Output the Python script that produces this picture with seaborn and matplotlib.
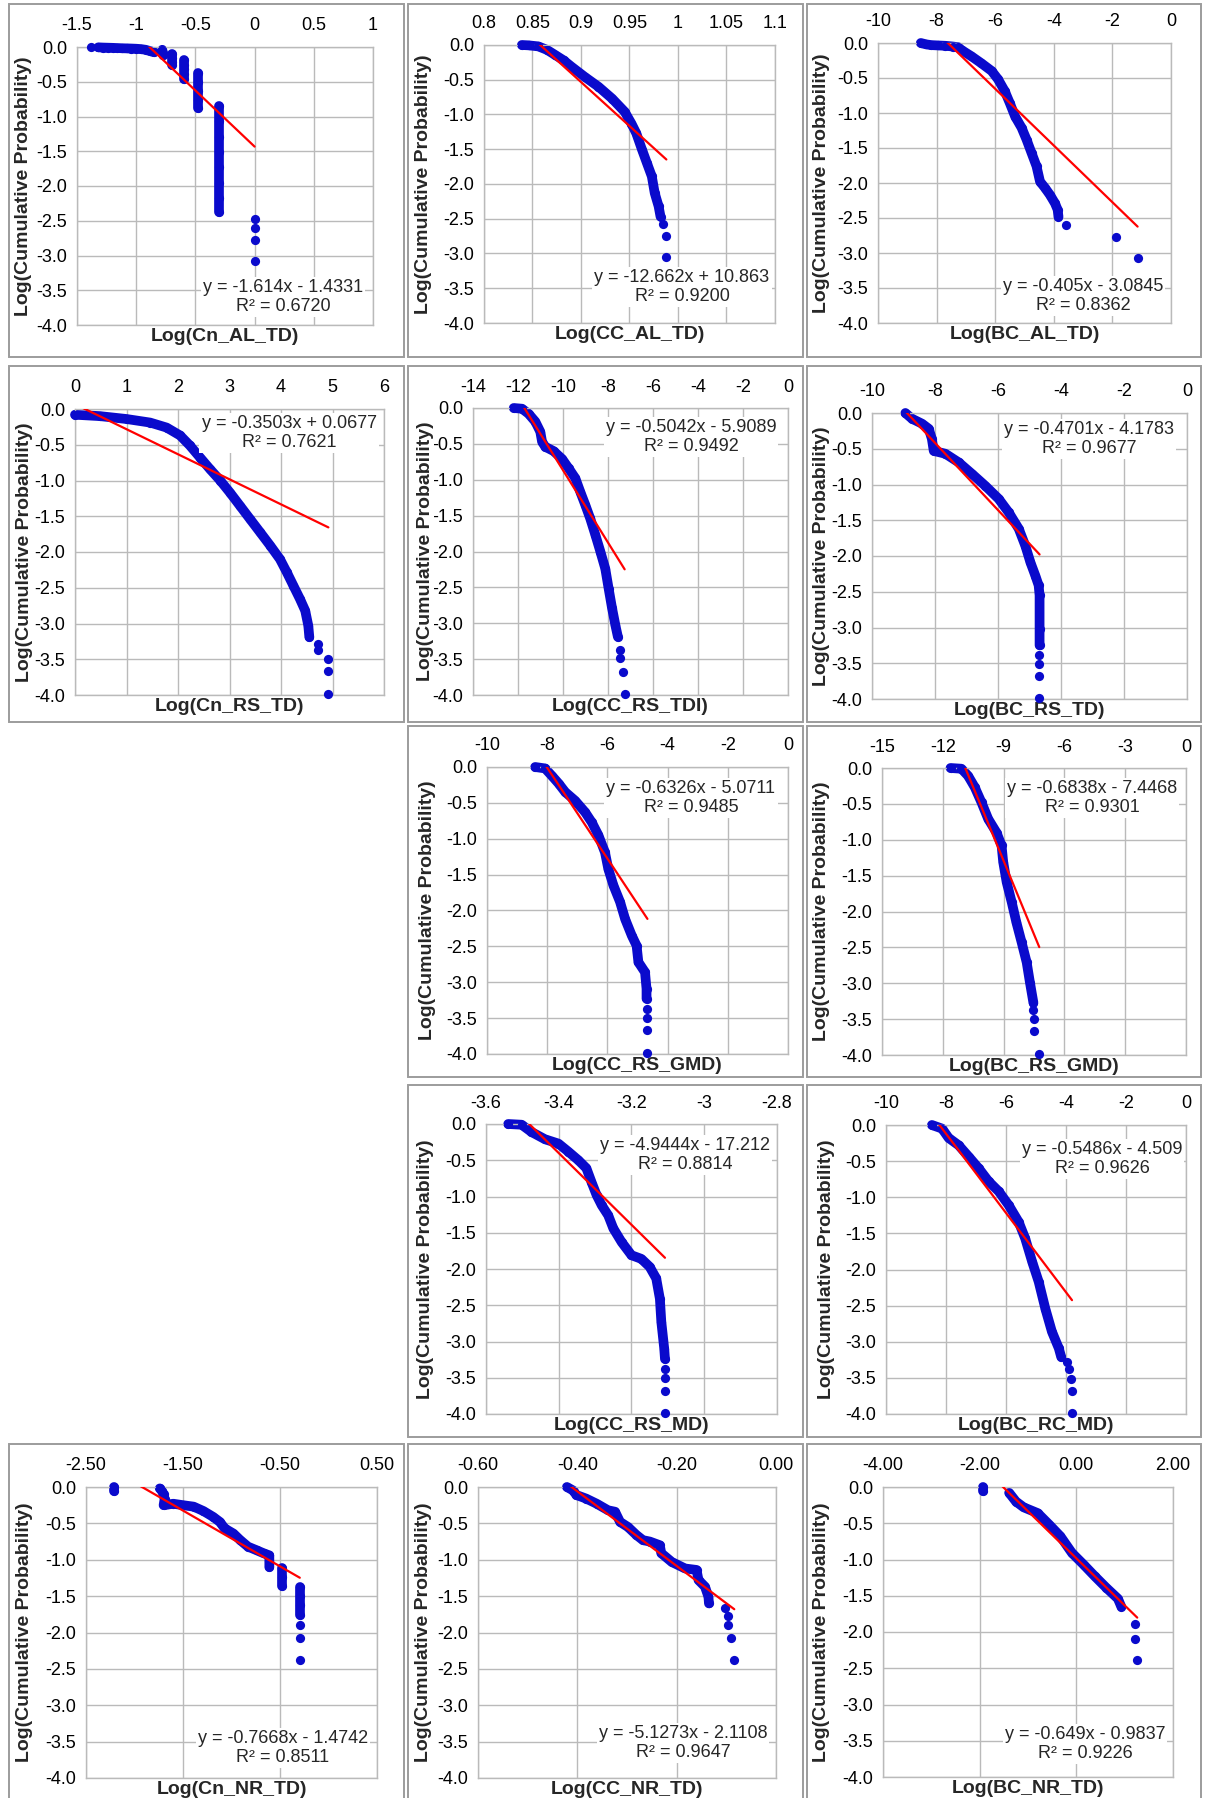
import pandas as pd
import seaborn as sns
import matplotlib.pyplot as plt
from matplotlib.patches import Rectangle

# ---- values (x = log value, y = log cumulative probability) ----
# g = group id: points with the same id form one continuous run of markers
cn_al_x = [-1.38, -1.32, -1.28, -1.24, -1.20, -1.16, -1.12, -1.08, -1.04, -1.00, -0.96, -0.92, -0.88, -0.85,
           -0.78, -0.775, -0.77, -0.70, -0.70, -0.70, -0.70, -0.60, -0.60, -0.60, -0.60, -0.60,
           -0.48, -0.48, -0.48, -0.48, -0.48, -0.30, -0.30, -0.30, -0.30, -0.30, -0.30, -0.30, -0.30,
           0.0, 0.0, 0.0, 0.0]
cn_al_y = [0.0, -0.005, -0.008, -0.01, -0.012, -0.015, -0.018, -0.02, -0.022, -0.025, -0.03, -0.04, -0.06, -0.075,
           -0.04, -0.08, -0.12, -0.10, -0.16, -0.21, -0.26, -0.19, -0.26, -0.32, -0.39, -0.46,
           -0.38, -0.50, -0.63, -0.76, -0.88, -0.85, -1.07, -1.29, -1.51, -1.73, -1.95, -2.17, -2.38,
           -2.48, -2.61, -2.77, -3.08]
cn_al_g = [0] + [1] * 13 + [2] * 3 + [3] * 4 + [4] * 5 + [5] * 5 + [6] * 8 + [7, 8, 9, 10]

cc_al_x = [0.839, 0.846, 0.856, 0.865, 0.873, 0.882, 0.890, 0.904, 0.918, 0.932, 0.945, 0.952, 0.957,
           0.963, 0.968, 0.973, 0.976, 0.980, 0.982, 0.985, 0.988, 0.988]
cc_al_y = [0.0, -0.005, -0.02, -0.07, -0.14, -0.22, -0.31, -0.46, -0.60, -0.77, -0.96, -1.13, -1.27,
           -1.51, -1.70, -1.89, -2.13, -2.32, -2.47, -2.58, -2.75, -3.05]
cc_al_g = [0] * 19 + [1, 2, 3]

bc_al_x = [-8.54, -8.35, -8.18, -7.95, -7.70, -7.45, -7.26, -7.15, -6.81, -6.47, -6.12, -5.90, -5.67, -5.50,
           -5.32, -5.10, -4.93, -4.76, -4.59, -4.47, -4.30, -4.13, -3.96, -3.87, -3.84, -3.59, -1.88, -1.14]
bc_al_y = [0.0, -0.02, -0.03, -0.035, -0.04, -0.05, -0.06, -0.10, -0.19, -0.29, -0.40, -0.52, -0.69, -0.86,
           -1.05, -1.21, -1.38, -1.57, -1.76, -1.98, -2.07, -2.17, -2.29, -2.38, -2.48, -2.60, -2.77, -3.07]
bc_al_g = [0] * 25 + [1, 2, 3]

cn_rs_x = [0.0, 0.49, 1.0, 1.46, 1.78, 2.04, 2.23, 2.43, 2.62, 2.82, 3.01, 3.20, 3.40, 3.59, 3.79, 3.98,
           4.11, 4.24, 4.37, 4.47, 4.53, 4.55, 4.71, 4.72, 4.91, 4.92, 4.92]
cn_rs_y = [-0.08, -0.10, -0.14, -0.19, -0.26, -0.37, -0.51, -0.68, -0.84, -1.00, -1.17, -1.35, -1.54, -1.72,
           -1.91, -2.10, -2.28, -2.47, -2.66, -2.82, -3.03, -3.19, -3.28, -3.37, -3.50, -3.67, -3.99]
cn_rs_g = [0] * 22 + [1, 2, 3, 4, 5]

cc_rs_x = [-12.19, -11.82, -11.53, -11.23, -11.01, -10.93, -10.79, -10.42, -10.04, -9.75, -9.45, -9.23, -9.01,
           -8.79, -8.56, -8.34, -8.12, -7.97, -7.82, -7.67, -7.56, -7.48, -7.45, -7.35, -7.26]
cc_rs_y = [0.0, -0.01, -0.08, -0.19, -0.33, -0.47, -0.54, -0.60, -0.71, -0.84, -0.98, -1.17, -1.35,
           -1.54, -1.77, -2.00, -2.24, -2.52, -2.79, -3.03, -3.19, -3.37, -3.49, -3.68, -3.99]
cc_rs_g = [0] * 21 + [1, 2, 3, 4]

bc_rs_x = [-8.94, -8.73, -8.41, -8.20, -8.10, -8.04, -7.67, -7.25, -6.83, -6.40, -5.98, -5.66, -5.34, -5.13,
           -4.97, -4.81, -4.71, -4.68, -4.68, -4.68, -4.71, -4.71, -4.71, -4.71]
bc_rs_y = [0.0, -0.08, -0.15, -0.22, -0.36, -0.53, -0.57, -0.69, -0.85, -1.02, -1.20, -1.39, -1.62, -1.86,
           -2.09, -2.28, -2.41, -2.55, -3.02, -3.25, -3.38, -3.51, -3.68, -3.99]
bc_rs_g = [0] * 20 + [1, 2, 3, 4]

cc_gmd_x = [-8.40, -8.07, -7.85, -7.62, -7.40, -7.07, -6.74, -6.52, -6.30, -6.08, -5.97, -5.80, -5.58, -5.41,
            -5.19, -5.03, -4.97, -4.75, -4.70, -4.70, -4.67, -4.67, -4.67, -4.67]
cc_gmd_y = [0.0, -0.02, -0.12, -0.23, -0.35, -0.47, -0.63, -0.77, -0.95, -1.19, -1.42, -1.65, -1.88, -2.12,
            -2.35, -2.49, -2.72, -2.86, -3.09, -3.23, -3.37, -3.50, -3.67, -3.98]
cc_gmd_g = [0] * 20 + [1, 2, 3, 4]

bc_gmd_x = [-11.62, -11.08, -10.75, -10.42, -10.09, -9.76, -9.35, -9.10, -9.02, -8.85, -8.60, -8.37, -8.11,
            -7.86, -7.70, -7.53, -7.53, -7.48, -7.48, -7.24]
bc_gmd_y = [0.0, -0.01, -0.11, -0.27, -0.48, -0.71, -0.90, -1.08, -1.31, -1.59, -1.87, -2.15, -2.43,
            -2.71, -2.99, -3.27, -3.37, -3.50, -3.67, -3.98]
bc_gmd_g = [0] * 16 + [1, 2, 3, 4]

cc_md_x = [-3.539, -3.502, -3.475, -3.438, -3.401, -3.374, -3.346, -3.324, -3.310, -3.296, -3.282, -3.264,
           -3.250, -3.227, -3.200, -3.173, -3.150, -3.132, -3.122, -3.118, -3.110, -3.108, -3.108, -3.108,
           -3.108, -3.108]
cc_md_y = [0.0, -0.01, -0.11, -0.21, -0.27, -0.38, -0.50, -0.61, -0.80, -0.98, -1.12, -1.26,
           -1.44, -1.63, -1.81, -1.86, -1.97, -2.13, -2.41, -2.73, -3.10, -3.24, -3.38, -3.50,
           -3.68, -3.98]
cc_md_g = [0] * 22 + [1, 2, 3, 4]

bc_md_x = [-8.47, -8.13, -7.91, -7.58, -7.24, -6.91, -6.58, -6.24, -5.91, -5.58, -5.36, -5.13, -4.91, -4.69,
           -4.47, -4.24, -4.16, -3.97, -3.91, -3.83, -3.80, -3.80]
bc_md_y = [0.0, -0.05, -0.18, -0.28, -0.44, -0.60, -0.78, -0.92, -1.11, -1.34, -1.57, -1.89, -2.17, -2.54,
           -2.86, -3.09, -3.21, -3.28, -3.38, -3.51, -3.68, -3.98]
bc_md_g = [0] * 17 + [1, 2, 3, 4, 5]

cn_nr_x = [-2.21, -2.21, -1.74, -1.72, -1.70, -1.69, -1.70, -1.65, -1.60, -1.50, -1.39, -1.29, -1.19, -1.12,
           -1.07, -0.98, -0.91, -0.83, -0.74, -0.67, -0.61, -0.61, -0.61, -0.475, -0.475, -0.475,
           -0.296, -0.296, -0.296, -0.296, -0.296, -0.296, -0.296]
cn_nr_y = [0.0, -0.05, -0.02, -0.05, -0.10, -0.17, -0.25, -0.24, -0.23, -0.25, -0.27, -0.33, -0.41, -0.48,
           -0.57, -0.64, -0.73, -0.82, -0.87, -0.91, -0.94, -1.02, -1.10, -1.12, -1.24, -1.36,
           -1.38, -1.50, -1.62, -1.76, -1.90, -2.07, -2.38]
cn_nr_g = [0, 0] + [1] * 21 + [2] * 3 + [3] * 4 + [4, 5, 6]

cc_nr_x = [-0.421, -0.408, -0.402, -0.382, -0.361, -0.338, -0.324, -0.314, -0.298, -0.281, -0.268, -0.254,
           -0.234, -0.231, -0.210, -0.183, -0.160, -0.156, -0.143, -0.136, -0.135, -0.103, -0.096, -0.096,
           -0.091, -0.084]
cc_nr_y = [0.0, -0.05, -0.11, -0.16, -0.23, -0.32, -0.34, -0.48, -0.55, -0.66, -0.73, -0.75,
           -0.80, -0.91, -1.03, -1.12, -1.14, -1.28, -1.37, -1.51, -1.60, -1.67, -1.77, -1.90,
           -2.07, -2.38]
cc_nr_g = [0] * 21 + [1, 2, 3, 4, 5]

bc_nr_x = [-1.94, -1.94, -1.39, -1.25, -1.09, -0.80, -0.56, -0.33, -0.09, 0.15, 0.38, 0.62, 0.86, 0.93,
           1.21, 1.21, 1.26]
bc_nr_y = [0.0, -0.05, -0.08, -0.20, -0.28, -0.36, -0.52, -0.68, -0.91, -1.07, -1.23, -1.39, -1.54, -1.65,
           -1.89, -2.09, -2.38]
bc_nr_g = [0, 0] + [1] * 12 + [2, 3, 4]

x_labels = ['Log(Cn_AL_TD)', 'Log(CC_AL_TD)', 'Log(BC_AL_TD)', 'Log(Cn_RS_TD)', 'Log(CC_RS_TDI)',
            'Log(BC_RS_TD)', 'Log(CC_RS_GMD)', 'Log(BC_RS_GMD)', 'Log(CC_RS_MD)', 'Log(BC_RC_MD)',
            'Log(Cn_NR_TD)', 'Log(CC_NR_TD)', 'Log(BC_NR_TD)']
slopes = [-1.614, -12.662, -0.405, -0.3503, -0.5042, -0.4701, -0.6326, -0.6838, -4.9444, -0.5486,
          -0.7668, -5.1273, -0.649]
intercepts = [-1.4331, 10.863, -3.0845, 0.0677, -5.9089, -4.1783, -5.0711, -7.4468, -17.212, -4.509,
              -1.4742, -2.1108, -0.9837]
equations = ['y = -1.614x - 1.4331', 'y = -12.662x + 10.863', 'y = -0.405x - 3.0845',
             'y = -0.3503x + 0.0677', 'y = -0.5042x - 5.9089', 'y = -0.4701x - 4.1783',
             'y = -0.6326x - 5.0711', 'y = -0.6838x - 7.4468', 'y = -4.9444x - 17.212',
             'y = -0.5486x - 4.509', 'y = -0.7668x - 1.4742', 'y = -5.1273x - 2.1108',
             'y = -0.649x - 0.9837']
r_squared = ['0.6720', '0.9200', '0.8362', '0.7621', '0.9492', '0.9677', '0.9485', '0.9301', '0.8814',
             '0.9626', '0.8511', '0.9647', '0.9226']
x_tick_labels = [
    ['-1.5', '-1', '-0.5', '0', '0.5', '1'],
    ['0.8', '0.85', '0.9', '0.95', '1', '1.05', '1.1'],
    ['-10', '-8', '-6', '-4', '-2', '0'],
    ['0', '1', '2', '3', '4', '5', '6'],
    ['-14', '-12', '-10', '-8', '-6', '-4', '-2', '0'],
    ['-10', '-8', '-6', '-4', '-2', '0'],
    ['-10', '-8', '-6', '-4', '-2', '0'],
    ['-15', '-12', '-9', '-6', '-3', '0'],
    ['-3.6', '-3.4', '-3.2', '-3', '-2.8'],
    ['-10', '-8', '-6', '-4', '-2', '0'],
    ['-2.50', '-1.50', '-0.50', '0.50'],
    ['-0.60', '-0.40', '-0.20', '0.00'],
    ['-4.00', '-2.00', '0.00', '2.00'],
]
y_tick_labels = ['0.0', '-0.5', '-1.0', '-1.5', '-2.0', '-2.5', '-3.0', '-3.5', '-4.0']

series = [(cn_al_x, cn_al_y, cn_al_g), (cc_al_x, cc_al_y, cc_al_g), (bc_al_x, bc_al_y, bc_al_g),
          (cn_rs_x, cn_rs_y, cn_rs_g), (cc_rs_x, cc_rs_y, cc_rs_g), (bc_rs_x, bc_rs_y, bc_rs_g),
          (cc_gmd_x, cc_gmd_y, cc_gmd_g), (bc_gmd_x, bc_gmd_y, bc_gmd_g),
          (cc_md_x, cc_md_y, cc_md_g), (bc_md_x, bc_md_y, bc_md_g),
          (cn_nr_x, cn_nr_y, cn_nr_g), (cc_nr_x, cc_nr_y, cc_nr_g), (bc_nr_x, bc_nr_y, bc_nr_g)]

# ---- layout in pixels of the 1205x1798 canvas ----
# plot area (left, top, right, bottom), equation centre, y-label offset, frame cell (col, row)
plot_boxes = [(77, 47, 373, 325), (484, 45, 775, 323), (878, 43, 1171, 323),
              (75, 409, 384, 695), (473, 408, 788, 695), (872, 413, 1187, 699),
              (487, 767, 788, 1054), (882, 768, 1186, 1055),
              (486, 1124, 777, 1414), (886, 1125, 1186, 1414),
              (86, 1487, 377, 1778), (478, 1487, 776, 1778), (883, 1487, 1173, 1777)]
eq_pos = [(283, 297), (682, 287), (1083, 296), (289, 433), (691, 437), (1089, 439),
          (691, 798), (1092, 798), (685, 1155), (1102, 1159), (283, 1748), (683, 1743), (1085, 1744)]
ylab_off = [53, 61, 57, 50, 48, 51, 60, 61, 60, 60, 61, 55, 61]
cells = [(0, 0), (1, 0), (2, 0), (0, 1), (1, 1), (2, 1), (1, 2), (2, 2), (1, 3), (2, 3), (0, 4), (1, 4), (2, 4)]
col_x = [(9, 404), (408, 803), (807, 1201)]
row_y = [(4, 357), (366, 722), (726, 1077), (1085, 1437), (1444, 1805)]

W, H = 1205, 1798
BLUE = '#0A0ACC'
RED = '#FF0000'
GRID = '#BABABA'
FRAME = '#9C9C9C'

sns.set_style('white')
plt.rcParams['font.family'] = ['Liberation Sans', 'DejaVu Sans']

fig = plt.figure(figsize=(W / 100, H / 100), dpi=100)

for i, (xs, ys, gs) in enumerate(series):
    c, r = cells[i]
    x0, x1 = col_x[c]
    y0, y1 = row_y[r]
    fig.add_artist(Rectangle((x0 / W, 1 - y1 / H), (x1 - x0) / W, (y1 - y0) / H,
                             transform=fig.transFigure, fill=False, ec=FRAME, lw=1.4))

    l, t, rr, b = plot_boxes[i]
    ax = fig.add_axes([l / W, 1 - b / H, (rr - l) / W, (b - t) / H])
    df = pd.DataFrame({'x': xs, 'y': ys, 'g': gs})

    sns.lineplot(data=df, x='x', y='y', units='g', estimator=None, sort=False, color=BLUE, lw=7,
                 solid_capstyle='round', solid_joinstyle='round', clip_on=False, zorder=2, ax=ax)
    sns.scatterplot(data=df, x='x', y='y', color=BLUE, s=44, linewidth=0, clip_on=False, zorder=3, ax=ax)

    ends = [df['x'].min(), df['x'].max()]
    sns.lineplot(x=ends, y=[slopes[i] * v + intercepts[i] for v in ends], color=RED, lw=1.6,
                 zorder=4, ax=ax)

    xt = x_tick_labels[i]
    xv = [float(s) for s in xt]
    ax.set_xlim(xv[0], xv[-1])
    ax.set_ylim(-4, 0)
    ax.set_xticks(xv)
    ax.set_xticklabels(xt)
    ax.set_yticks([float(s) for s in y_tick_labels])
    ax.set_yticklabels(y_tick_labels)
    ax.xaxis.tick_top()
    ax.tick_params(axis='both', length=0, labelsize=13, colors='black')
    ax.tick_params(axis='x', pad=9)
    ax.tick_params(axis='y', pad=7)
    ax.grid(True, color=GRID, lw=1)
    ax.set_axisbelow(True)
    for s in ax.spines.values():
        s.set_color(GRID)
        s.set_linewidth(1)

    ax.set_xlabel(x_labels[i], fontsize=14, fontweight='bold', labelpad=2)
    ax.set_ylabel('Log(Cumulative Probability)', fontsize=14, fontweight='bold', va='center')
    ax.yaxis.set_label_coords(-ylab_off[i] / (rr - l), 0.5)
    if r == 1:
        ax.yaxis.label.set_bbox(dict(facecolor='white', edgecolor='none', pad=0))

    ex, ey = eq_pos[i]
    ax.text((ex - l) / (rr - l), 1 - (ey - t) / (b - t), equations[i] + '\nR² = ' + r_squared[i],
            transform=ax.transAxes, ha='center', va='center', multialignment='center', fontsize=13,
            linespacing=1.12, zorder=5,
            bbox=dict(facecolor='white', edgecolor='none', pad=1.5))

fig.savefig('out.png', dpi=100, facecolor='white')
